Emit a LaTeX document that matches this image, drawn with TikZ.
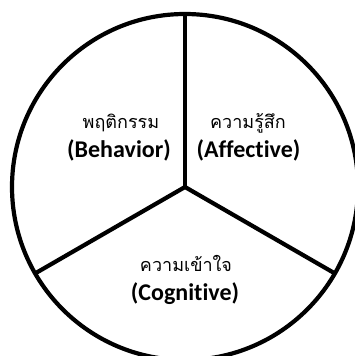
\documentclass[tikz,border=0pt]{standalone}
\usepackage{fontspec}
\setmainfont[Ligatures=NoCommon]{Carlito}
\newfontfamily\thaifont[Script=Thai]{Loma}
\begin{document}
\begin{tikzpicture}[x=1pt,y=-1pt,
  thai/.style={font=\thaifont\fontsize{18}{21}\selectfont, inner sep=0pt, anchor=base},
  eng/.style={font=\bfseries\fontsize{24}{28}\selectfont, inner sep=0pt, anchor=base},
  seg/.style={line width=4.2pt}]
\useasboundingbox (0,0) rectangle (355,356);
\clip (0,0) rectangle (355,356);
\coordinate (c) at (185,187);
\coordinate (t) at (185,14);
\coordinate (r) at (335,273.5);
\coordinate (l) at (35,273.5);
\draw[seg] (c) circle[radius=173];
\draw[seg] (c) -- (t);
\draw[seg] (c) -- (r);
\draw[seg] (c) -- (l);
\node[thai] (b1) at (121,128.5) {พฤติกรรม};
\node[eng] (b2) at (119,157) {(Behavior)};
\node[thai] (a1) at (248,128.5) {ความรู้สึก};
\node[eng] (a2) at (248.5,157) {(Affective)};
\node[thai] (g1) at (186,271.5) {ความเข้าใจ};
\node[eng] (g2) at (185,300.5) {(Cognitive)};
\end{tikzpicture}
\end{document}
